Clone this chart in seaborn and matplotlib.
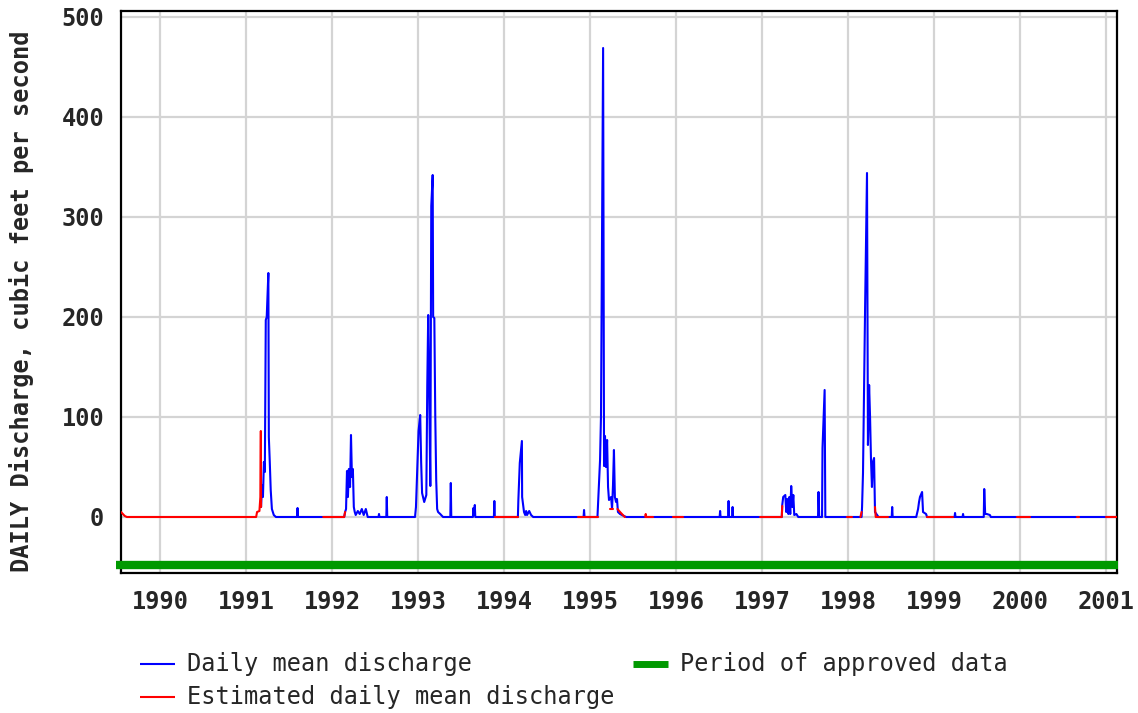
import numpy as np
import pandas as pd
import matplotlib
matplotlib.use("Agg")
import matplotlib.pyplot as plt
import matplotlib.dates as mdates
from matplotlib.lines import Line2D
import seaborn as sns

# ---------------- data ----------------
# approved daily mean discharge (cfs), key points only
flow_dates = [
    "1991-03-05", "1991-03-09", "1991-03-13", "1991-03-17", "1991-03-21", "1991-03-25",
    "1991-03-29", "1991-04-05", "1991-04-07", "1991-04-11", "1991-04-15", "1991-04-20",
    "1991-04-28", "1991-05-07", "1991-08-05", "1991-08-07", "1991-08-09",
    "1992-02-21", "1992-02-25", "1992-02-29", "1992-03-04", "1992-03-08", "1992-03-12",
    "1992-03-17", "1992-03-21", "1992-03-25", "1992-03-29", "1992-04-02", "1992-04-06",
    "1992-04-10", "1992-04-19", "1992-04-27", "1992-05-06", "1992-05-14", "1992-05-23",
    "1992-05-31", "1992-07-16", "1992-07-18", "1992-07-20", "1992-08-18", "1992-08-20",
    "1992-08-22", "1992-12-18", "1992-12-22",
    "1993-01-02", "1993-01-09", "1993-01-13", "1993-01-17", "1993-01-26", "1993-02-04",
    "1993-02-08", "1993-02-12", "1993-02-16", "1993-02-21", "1993-02-25", "1993-03-03",
    "1993-03-05", "1993-03-10", "1993-03-14", "1993-03-18", "1993-03-22", "1993-03-26",
    "1993-04-04", "1993-04-16", "1993-05-17", "1993-05-19", "1993-05-21", "1993-08-21",
    "1993-08-23", "1993-08-25", "1993-08-29", "1993-08-31", "1993-11-18", "1993-11-20",
    "1993-11-22",
    "1994-02-28", "1994-03-02", "1994-03-08", "1994-03-17", "1994-03-18", "1994-03-26",
    "1994-03-31", "1994-04-04", "1994-04-08", "1994-04-17", "1994-04-25", "1994-05-04",
    "1994-12-04", "1994-12-06", "1994-12-08",
    "1995-02-01", "1995-02-03", "1995-02-12", "1995-02-16", "1995-02-25", "1995-03-01",
    "1995-03-05", "1995-03-09", "1995-03-14", "1995-03-18", "1995-03-22", "1995-03-31",
    "1995-04-04", "1995-04-08", "1995-04-12", "1995-04-16", "1995-04-21", "1995-04-25",
    "1995-04-29", "1995-05-08", "1995-05-16", "1995-06-03",
    "1996-07-04", "1996-07-06", "1996-07-08", "1996-08-09", "1996-08-11", "1996-08-13",
    "1996-08-26", "1996-08-28", "1996-08-30",
    "1997-03-25", "1997-03-27", "1997-03-31", "1997-04-09", "1997-04-13", "1997-04-17",
    "1997-04-22", "1997-04-26", "1997-04-30", "1997-05-04", "1997-05-09", "1997-05-13",
    "1997-05-17", "1997-05-26", "1997-06-03", "1997-08-26", "1997-08-28", "1997-08-31",
    "1997-09-12", "1997-09-14", "1997-09-23", "1997-09-26",
    "1998-02-27", "1998-03-01", "1998-03-05", "1998-03-14", "1998-03-22", "1998-03-26",
    "1998-03-31", "1998-04-04", "1998-04-08", "1998-04-12", "1998-04-16", "1998-04-21",
    "1998-04-25", "1998-05-10", "1998-07-05", "1998-07-07", "1998-07-09", "1998-10-17",
    "1998-10-19", "1998-10-25", "1998-10-29", "1998-11-02", "1998-11-11", "1998-11-15",
    "1998-11-28", "1998-12-02",
    "1999-03-29", "1999-03-31", "1999-04-02", "1999-05-02", "1999-05-04", "1999-05-06",
    "1999-07-31", "1999-08-02", "1999-08-06", "1999-08-13", "1999-08-26", "1999-08-30",
    "2001-02-16",
]
flow_cfs = [
    10, 32, 20, 55, 45, 197,
    200, 244, 80, 55, 27, 8,
    2, 0, 0, 9, 0,
    0, 5, 8, 46, 20, 48,
    30, 82, 40, 48, 10, 5,
    2, 6, 3, 8, 2, 8,
    0, 0, 3, 0, 0, 20,
    0, 0, 10,
    86, 102, 55, 24, 15, 22,
    131, 202, 130, 31, 311, 342,
    200, 199, 101, 37, 8, 5,
    3, 0, 0, 34, 0, 0,
    9, 2, 12, 0, 0, 16,
    0,
    0, 17, 54, 76, 20, 5,
    2, 6, 2, 6, 2, 0,
    0, 7, 0,
    0, 10, 57, 101, 469, 51,
    81, 50, 77, 30, 17, 20,
    8, 32, 67, 20, 15, 18,
    5, 3, 2, 0,
    0, 6, 0, 0, 16, 0,
    0, 10, 0,
    0, 12, 20, 22, 5, 18,
    3, 20, 3, 31, 10, 22,
    2, 3, 0, 0, 25, 0,
    0, 69, 127, 0,
    0, 10, 44, 211, 344, 72,
    132, 100, 57, 30, 55, 59,
    5, 0, 0, 10, 0, 0,
    2, 8, 15, 20, 25, 5,
    3, 0,
    0, 4, 0, 0, 3, 0,
    0, 28, 3, 3, 2, 0,
    0,
]

# estimated daily mean discharge (cfs), one id per separate stretch
est_dates = [
    "1989-07-18", "1989-07-26", "1989-08-03", "1989-08-12", "1991-02-12", "1991-02-16",
    "1991-02-26", "1991-03-02", "1991-03-04", "1991-03-05",
    "1991-11-24", "1992-02-21", "1992-02-25",
    "1993-11-23", "1994-03-01",
    "1994-11-10", "1995-02-03",
    "1995-03-25", "1995-04-08",
    "1995-04-27", "1995-05-08", "1995-05-20", "1995-05-28",
    "1995-08-23", "1995-08-25", "1995-08-27", "1995-09-25",
    "1995-12-18", "1996-01-29",
    "1996-12-23", "1997-03-25", "1997-03-27",
    "1997-12-26", "1998-01-18",
    "1998-02-22", "1998-02-27",
    "1998-04-25", "1998-04-28", "1998-06-19",
    "1998-12-02", "1999-03-22",
    "1999-12-20", "2000-02-12",
    "2000-08-30", "2000-09-07",
    "2001-01-01", "2001-02-16",
]
est_cfs = [
    5, 3, 1, 0, 0, 5,
    6, 20, 86, 10,
    0, 0, 5,
    0, 0,
    0, 0,
    8, 8,
    8, 5, 2, 0,
    0, 3, 0, 0,
    0, 0,
    0, 0, 11,
    0, 0,
    0, 5,
    10, 0, 0,
    0, 0,
    0, 0,
    0, 0,
    0, 0,
]
est_seg = [
    1, 1, 1, 1, 1, 1, 1, 1, 1, 1,
    2, 2, 2,
    3, 3,
    4, 4,
    5, 5,
    6, 6, 6, 6,
    7, 7, 7, 7,
    8, 8,
    9, 9, 9,
    10, 10,
    11, 11,
    12, 12, 12,
    13, 13,
    14, 14,
    15, 15,
    16, 16,
]

approved_period = ["1989-06-27", "2001-02-20"]
approved_level = -48
y_ticks = [0, 100, 200, 300, 400, 500]

flow = pd.DataFrame({"date": pd.to_datetime(flow_dates), "cfs": flow_cfs})
est = pd.DataFrame({"date": pd.to_datetime(est_dates), "cfs": est_cfs, "seg": est_seg})

# ---------------- plot ----------------
sns.set_style("white")
plt.rcParams["font.family"] = ["DejaVu Sans Mono", "DejaVu Sans"]

W, H = 1138, 713
FS = 17
fig = plt.figure(figsize=(W / 100, H / 100), dpi=100)
ax = fig.add_axes([121 / W, 1 - 573 / H, (1117 - 121) / W, (573 - 11) / H])

sns.lineplot(data=flow, x="date", y="cfs", color="#0000ff", lw=1.5, ax=ax, zorder=3)
sns.lineplot(data=est, x="date", y="cfs", units="seg", estimator=None,
             color="#ff0000", lw=1.5, ax=ax, zorder=4)

ax.plot(pd.to_datetime(approved_period), [approved_level] * 2, color="#009900",
        lw=6, solid_capstyle="butt", clip_on=False, zorder=5)

ax.set_xlim(pd.Timestamp("1989-07-18"), pd.Timestamp("2001-02-16"))
ax.set_ylim(-56, 506)
ax.xaxis.set_major_locator(mdates.YearLocator())
ax.xaxis.set_major_formatter(mdates.DateFormatter("%Y"))
ax.set_yticks(y_ticks)
ax.set_xlabel("")
ax.set_ylabel("")
ax.grid(True, color="#d4d4d4", lw=1.6)
ax.set_axisbelow(True)
for s in ax.spines.values():
    s.set_color("black")
    s.set_linewidth(1.6)
ax.tick_params(axis="both", length=0, labelsize=FS)
ax.tick_params(axis="x", pad=12)
ax.tick_params(axis="y", pad=12)
for lab in ax.get_xticklabels() + ax.get_yticklabels():
    lab.set_fontweight("bold")

fig.text(22 / W, 1 - 301 / H, "DAILY Discharge, cubic feet per second",
         rotation=90, ha="center", va="center", fontsize=FS, fontweight="bold")

# legend drawn by hand so it sits where the reference has it
def legend_item(x0, x1, y, color, lw, label):
    fy = 1 - y / H
    fig.add_artist(Line2D([x0 / W, x1 / W], [fy, fy], color=color, lw=lw,
                          solid_capstyle="butt"))
    fig.text((x1 + 12) / W, fy, label, ha="left", va="center", fontsize=FS)

legend_item(140, 175, 664, "#0000ff", 1.5, "Daily mean discharge")
legend_item(140, 175, 697, "#ff0000", 1.5, "Estimated daily mean discharge")
legend_item(633, 668, 664, "#009900", 5, "Period of approved data")

fig.savefig("out.png", dpi=100)
